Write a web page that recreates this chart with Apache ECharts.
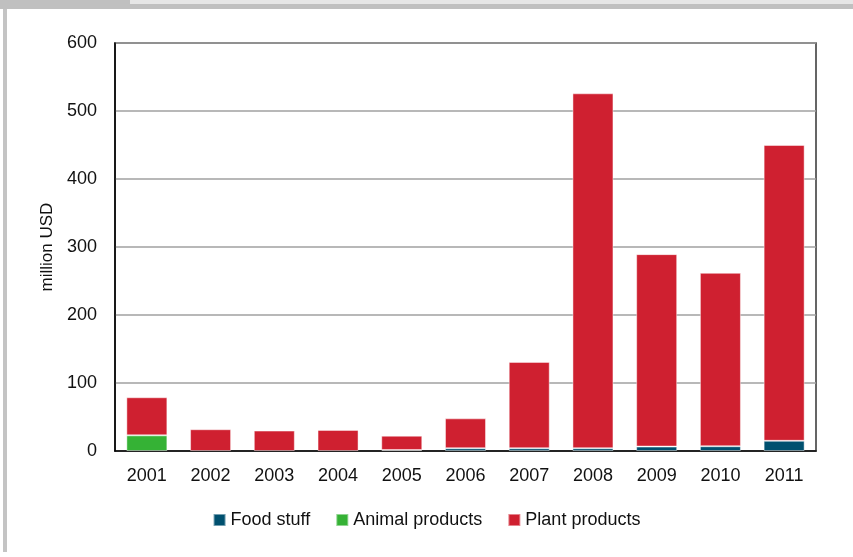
<!DOCTYPE html>
<html>
<head>
<meta charset="utf-8">
<script src="https://cdn.jsdelivr.net/npm/echarts@6/dist/echarts.min.js"></script>
<style>
  html, body { margin: 0; padding: 0; background: #fff; }
  #wrap { position: relative; width: 853px; height: 557px; overflow: hidden; }
  #chart { position: absolute; left: 0; top: 0; width: 853px; height: 557px; }
  .band { position: absolute; left: 0; top: 0; width: 853px; height: 9px; background: #c0c0c0; }
  .band2 { position: absolute; left: 130px; top: 0; width: 723px; height: 4px; background: #e6e6e6; }
  .lborder { position: absolute; left: 3px; top: 9px; width: 4px; height: 543px; background: #c4c4c4; }
</style>
</head>
<body>
<div id="wrap">
  <div id="chart"></div>
  <div class="band"></div>
  <div class="band2"></div>
  <div class="lborder"></div>
</div>
<script>
const categories = ['2001','2002','2003','2004','2005','2006','2007','2008','2009','2010','2011'];
const foodStuff = [0, 0, 0, 0, 1.5, 4, 4, 4, 6.5, 7, 15];
const animalProducts = [23, 0, 0, 0, 0, 0, 0, 0, 0, 0, 0];
const plantProducts = [56, 32, 30, 31, 21, 44, 127, 522, 283, 255, 435];
const yTicks = [0, 100, 200, 300, 400, 500, 600];

const hideZero = arr => arr.map(v => (v === 0 ? null : v));
const chart = echarts.init(document.getElementById('chart'));
const font = 'Liberation Sans, Arial, sans-serif';
const barBorder = { borderColor: 'rgba(255,255,255,0.45)', borderWidth: 1 };
chart.setOption({
  backgroundColor: '#fff',
  animation: false,
  textStyle: { fontFamily: font },
  grid: { left: 115, right: 37, top: 43, bottom: 106, show: true, borderColor: '#333', borderWidth: 1.5 },
  legend: {
    bottom: 23, left: 'center',
    itemWidth: 12, itemHeight: 12, itemGap: 25,
    icon: 'rect',
    textStyle: { fontSize: 18, color: '#111', fontFamily: font },
    data: ['Food stuff', 'Animal products', 'Plant products']
  },
  xAxis: {
    type: 'category',
    data: categories,
    axisLine: { lineStyle: { color: '#000', width: 1.5 } },
    axisTick: { show: false },
    axisLabel: { fontSize: 18, color: '#111', margin: 16 }
  },
  yAxis: {
    type: 'value',
    min: yTicks[0], max: yTicks[yTicks.length - 1], interval: 100,
    name: 'million USD', nameLocation: 'middle', nameGap: 58,
    nameTextStyle: { fontSize: 17, color: '#111' },
    axisLine: { show: true, lineStyle: { color: '#000', width: 1.5 } },
    axisTick: { show: false },
    axisLabel: { fontSize: 18, color: '#111', margin: 18 },
    splitLine: { lineStyle: { color: '#a0a0a0', width: 1.5 } }
  },
  series: [
    { name: 'Food stuff', type: 'bar', stack: 't', data: hideZero(foodStuff), barWidth: 41, itemStyle: Object.assign({ color: '#00506f' }, barBorder) },
    { name: 'Animal products', type: 'bar', stack: 't', data: hideZero(animalProducts), barWidth: 41, itemStyle: Object.assign({ color: '#35b235' }, barBorder) },
    { name: 'Plant products', type: 'bar', stack: 't', data: hideZero(plantProducts), barWidth: 41, itemStyle: Object.assign({ color: '#cf2030' }, barBorder) }
  ]
});
</script>
</body>
</html>
